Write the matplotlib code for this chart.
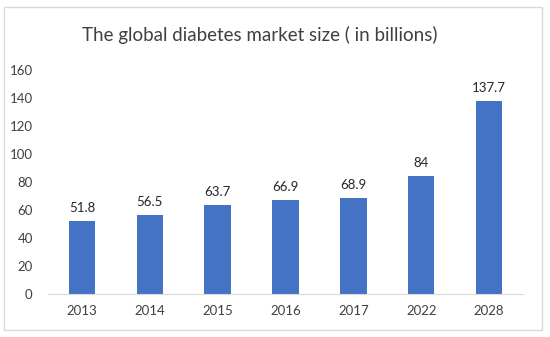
import matplotlib
matplotlib.use("Agg")
import matplotlib.pyplot as plt
from matplotlib.patches import Rectangle

# data
years = ["2013", "2014", "2015", "2016", "2017", "2022", "2028"]
market_size = [51.8, 56.5, 63.7, 66.9, 68.9, 84, 137.7]
value_labels = ["51.8", "56.5", "63.7", "66.9", "68.9", "84", "137.7"]

plt.rcParams['font.family'] = ['Lato', 'DejaVu Sans']

fig = plt.figure(figsize=(5.5, 3.37), dpi=100)
fig.patch.set_facecolor('white')

# light border round the chart area
fig.patches.append(Rectangle((4 / 550, 1 - 330 / 337), 538 / 550, 323 / 337,
                             transform=fig.transFigure, fill=False,
                             edgecolor='#d9d9d9', linewidth=1))

ax = fig.add_axes([48 / 550, 43 / 337, 475 / 550, 224 / 337])
pos = range(len(years))
bars = ax.bar(pos, market_size, width=0.39, color='#4472c4', zorder=2)

for b, lab in zip(bars, value_labels):
    ax.text(b.get_x() + b.get_width() / 2, b.get_height() + 5, lab,
            ha='center', va='bottom', fontsize=9.5, color='#262626')

ax.set_xlim(-0.5, len(years) - 0.5)
ax.set_ylim(0, 160)
ax.set_yticks(range(0, 161, 20))
ax.set_xticks(list(pos))
ax.set_xticklabels(years)

for s in ['top', 'right', 'left']:
    ax.spines[s].set_visible(False)
ax.spines['bottom'].set_color('#d9d9d9')
ax.tick_params(axis='both', length=0, labelsize=9.5, colors='#404040')
ax.tick_params(axis='x', pad=8)
ax.tick_params(axis='y', pad=11)

fig.text(260 / 550, 1 - 35 / 337, 'The global diabetes market size ( in billions)',
         ha='center', va='center', fontsize=13.5, color='#404040')

plt.savefig('out.png', dpi=100)
